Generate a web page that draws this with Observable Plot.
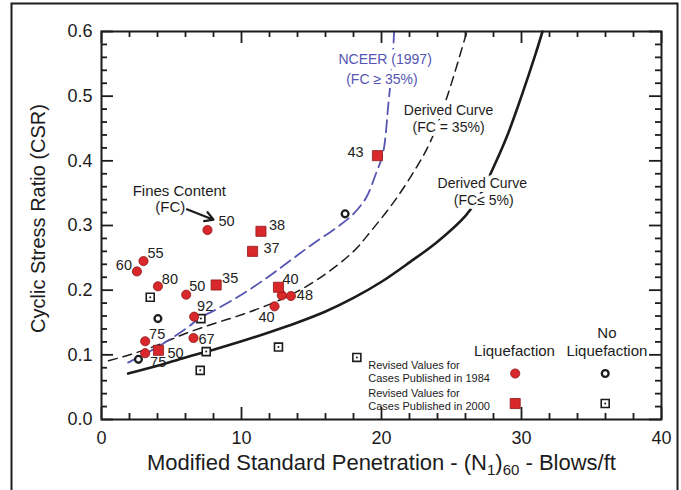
<!DOCTYPE html>
<html><head><meta charset="utf-8">
<script src="https://cdn.jsdelivr.net/npm/d3@7"></script>
<script src="https://cdn.jsdelivr.net/npm/@observablehq/plot@0.6"></script>
<style>
html,body{margin:0;padding:0;background:#fff;overflow:hidden;}
#chart svg{display:block;}
</style>
</head><body><div id="chart"></div>
<script>
// ---------- data ----------
// Curves: (N1)60 and CSR
const nceerN   = [1.9, 4, 6, 7.1, 8, 10, 12, 13.5, 15, 17, 18, 18.9, 19.6, 20.1, 20.5, 20.8, 20.9];
const nceerCSR = [0.088, 0.112, 0.14, 0.158, 0.168, 0.193, 0.222, 0.246, 0.27, 0.3, 0.318, 0.343, 0.38, 0.411, 0.49, 0.56, 0.6];
const fc35N    = [0.5, 2, 4, 6, 8, 10, 12, 14, 16, 18, 19.2, 21, 22.5, 23.5, 24.7, 26.1];
const fc35CSR  = [0.091, 0.1, 0.115, 0.133, 0.148, 0.162, 0.178, 0.198, 0.225, 0.26, 0.29, 0.34, 0.39, 0.43, 0.5, 0.6];
const fc5N     = [1.9, 4, 6, 8, 10, 12, 14, 16, 18, 20, 22, 24, 26, 27, 28, 29, 30, 31, 31.5];
const fc5CSR   = [0.071, 0.083, 0.096, 0.108, 0.121, 0.135, 0.15, 0.167, 0.188, 0.213, 0.243, 0.275, 0.315, 0.345, 0.39, 0.44, 0.5, 0.565, 0.6];

// Case histories
const liq1984N   = [7.57, 3.0, 2.53, 4.03, 6.05, 6.62, 6.57, 3.12, 3.12, 12.88, 13.53, 12.36];
const liq1984CSR = [0.293, 0.245, 0.229, 0.206, 0.193, 0.159, 0.126, 0.121, 0.1025, 0.192, 0.191, 0.175];
const liq1984FC  = ["50", "55", "60", "80", "50", "92", "67", "75", "75", "", "48", "40"];
const liq2000N   = [11.39, 10.79, 8.19, 12.64, 4.07, 19.71];
const liq2000CSR = [0.291, 0.26, 0.208, 0.2045, 0.107, 0.408];
const liq2000FC  = ["38", "37", "35", "40", "50", "43"];
const noLiq1984N   = [4.03, 2.64, 17.4];
const noLiq1984CSR = [0.156, 0.093, 0.318];
const noLiq2000N   = [3.48, 7.1, 7.48, 7.05, 12.64, 18.24];
const noLiq2000CSR = [0.189, 0.156, 0.105, 0.076, 0.112, 0.096];

// Ticks
const xMajor = [0, 10, 20, 30, 40];
const xMinor = [2, 4, 6, 8, 12, 14, 16, 18, 22, 24, 26, 28, 32, 34, 36, 38];
const yMajor = [0, 0.1, 0.2, 0.3, 0.4, 0.5, 0.6];
const yMinor = [0.02, 0.04, 0.06, 0.08, 0.12, 0.14, 0.16, 0.18, 0.22, 0.24, 0.26, 0.28,
                0.32, 0.34, 0.36, 0.38, 0.42, 0.44, 0.46, 0.48, 0.52, 0.54, 0.56, 0.58];

// Texts
const xTitle = "Modified Standard Penetration - (N1)60 - Blows/ft";
const yTitle = "Cyclic Stress Ratio (CSR)";
const legendHeads = ["Liquefaction", "No", "Liquefaction"];
const legendRows = ["Revised Values for", "Cases Published in 1984", "Revised Values for", "Cases Published in 2000"];

// ---------- layout (pixels / annotation anchors) ----------
const W = 681, H = 490, mL = 101, mR = 20, mT = 31, mB = 71;
const innerW = W - mL - mR, innerH = H - mT - mB;
const ink = "#1c1c1c", red = "#d8282c", redEdge = "#8e1b1b", blue = "#5656b2";

// label offsets (px) for each FC label
const off1984 = [[19,-9],[12,-8],[-13,-6],[12,-7],[11,-8],[11,-10],[13,1],[12,-7],[13,9],[0,0],[14,-1],[-8,11]];
const off2000 = [[16,-6],[19,-3],[14,-7],[12,-8],[17,3],[-22,-3]];

const zip = (xs, ys, ls) => xs.map((x, i) => ({x, y: ys[i], label: ls ? ls[i] : ""}));
const P = (x, y, text) => [{x, y, text}];

const liq1984 = zip(liq1984N, liq1984CSR, liq1984FC);
const liq2000 = zip(liq2000N, liq2000CSR, liq2000FC);
const noLiq1984 = zip(noLiq1984N, noLiq1984CSR);
const noLiq2000 = zip(noLiq2000N, noLiq2000CSR);

const txt = (data, o) => Plot.text(data, {x: "x", y: "y", text: "text", fill: ink, ...o});

const marks = [
  // outer picture border
  Plot.frame({stroke: ink, strokeWidth: 2, insetLeft: -(mL - 11), insetTop: -(mT - 3), insetRight: -(677 - (W - mR)), insetBottom: -(mB + 10)}),
  // ticks (inward, all four sides)
  Plot.ruleX(xMinor, {x: d => d, insetTop: innerH - 6, stroke: ink, strokeWidth: 1.8}),
  Plot.ruleX(xMajor, {x: d => d, insetTop: innerH - 12, stroke: ink, strokeWidth: 1.8}),
  Plot.ruleX(xMinor, {x: d => d, insetBottom: innerH - 6, stroke: ink, strokeWidth: 1.8}),
  Plot.ruleX(xMajor, {x: d => d, insetBottom: innerH - 12, stroke: ink, strokeWidth: 1.8}),
  Plot.ruleY(yMinor, {y: d => d, insetRight: innerW - 6, stroke: ink, strokeWidth: 1.8}),
  Plot.ruleY(yMajor, {y: d => d, insetRight: innerW - 12, stroke: ink, strokeWidth: 1.8}),
  Plot.ruleY(yMinor, {y: d => d, insetLeft: innerW - 6, stroke: ink, strokeWidth: 1.8}),
  Plot.ruleY(yMajor, {y: d => d, insetLeft: innerW - 12, stroke: ink, strokeWidth: 1.8}),
  Plot.axisX({ticks: xMajor, tickSize: 0, tickPadding: 12, fontSize: 18, label: null}),
  Plot.axisY({ticks: yMajor, tickSize: 0, tickPadding: 9, fontSize: 18, tickFormat: d3.format(".1f"), label: null}),
  // curves
  Plot.line(zip(fc5N, fc5CSR), {x: "x", y: "y", stroke: ink, strokeWidth: 2.6, curve: "catmull-rom"}),
  Plot.line(zip(fc35N, fc35CSR), {x: "x", y: "y", stroke: ink, strokeWidth: 1.5, strokeDasharray: "9,6", curve: "catmull-rom"}),
  Plot.line(zip(nceerN, nceerCSR), {x: "x", y: "y", stroke: blue, strokeWidth: 1.8, strokeDasharray: "12,6", curve: "catmull-rom"}),
  // curve labels
  txt(P(20.26, 0.556, "NCEER (1997)"), {fill: blue, fontSize: 14, stroke: "white", strokeWidth: 8}),
  txt(P(20.03, 0.526, "(FC ≥ 35%)"), {fill: blue, fontSize: 14, stroke: "white", strokeWidth: 8}),
  txt(P(24.79, 0.478, "Derived Curve"), {fontSize: 14, stroke: "white", strokeWidth: 8}),
  txt(P(24.79, 0.452, "(FC = 35%)"), {fontSize: 14, stroke: "white", strokeWidth: 8}),
  txt(P(27.2, 0.365, "Derived Curve"), {fontSize: 14, stroke: "white", strokeWidth: 8}),
  txt(P(27.3, 0.339, "(FC≤ 5%)"), {fontSize: 14, stroke: "white", strokeWidth: 8}),
  // Fines content annotation
  txt(P(5.56, 0.3526, "Fines Content"), {fontSize: 15}),
  txt(P(4.91, 0.3278, "(FC)"), {fontSize: 15}),
  Plot.arrow([{x1: 6.1, y1: 0.325, x2: 8.0, y2: 0.309}], {x1: "x1", y1: "y1", x2: "x2", y2: "y2", stroke: ink, strokeWidth: 2.2, headLength: 7}),
  // no-liquefaction points
  Plot.dot(noLiq2000, {x: "x", y: "y", symbol: "square", r: 4.5, fill: "white", stroke: ink, strokeWidth: 1.6}),
  Plot.dot(noLiq2000, {x: "x", y: "y", r: 1, fill: ink}),
  Plot.dot(noLiq1984, {x: "x", y: "y", r: 3.4, fill: "white", stroke: ink, strokeWidth: 2.3}),
  // liquefaction points
  Plot.dot(liq1984, {x: "x", y: "y", r: 4.6, fill: red, stroke: redEdge, strokeWidth: 0.8}),
  Plot.dot(liq2000, {x: "x", y: "y", symbol: "square", r: 5.7, fill: red, stroke: redEdge, strokeWidth: 0.8}),
  // FC labels
  ...liq1984.map((d, i) => txt([{x: d.x, y: d.y, text: d.label}], {fontSize: 14.5, dx: off1984[i][0], dy: off1984[i][1], fill: "#222"})),
  ...liq2000.map((d, i) => txt([{x: d.x, y: d.y, text: d.label}], {fontSize: 14.5, dx: off2000[i][0], dy: off2000[i][1], fill: "#222"})),
  // legend
  txt(P(29.5, 0.105, legendHeads[0]), {fontSize: 15}),
  txt(P(36.1, 0.133, legendHeads[1]), {fontSize: 15}),
  txt(P(36.1, 0.105, legendHeads[2]), {fontSize: 15}),
  txt(P(19.05, 0.0835, legendRows[0]), {fontSize: 11, textAnchor: "start"}),
  txt(P(19.05, 0.0634, legendRows[1]), {fontSize: 11, textAnchor: "start"}),
  txt(P(19.05, 0.0402, legendRows[2]), {fontSize: 11, textAnchor: "start"}),
  txt(P(19.05, 0.0201, legendRows[3]), {fontSize: 11, textAnchor: "start"}),
  Plot.dot(P(29.55, 0.0711), {x: "x", y: "y", r: 4.6, fill: red, stroke: redEdge, strokeWidth: 0.8}),
  Plot.dot(P(29.55, 0.0247), {x: "x", y: "y", symbol: "square", r: 5.7, fill: red, stroke: redEdge, strokeWidth: 0.8}),
  Plot.dot(P(35.98, 0.0711), {x: "x", y: "y", r: 3.4, fill: "white", stroke: ink, strokeWidth: 2.3}),
  Plot.dot(P(35.98, 0.0247), {x: "x", y: "y", symbol: "square", r: 4.5, fill: "white", stroke: ink, strokeWidth: 1.6}),
  Plot.dot(P(35.98, 0.0247), {x: "x", y: "y", r: 1, fill: ink}),
  // frame
  Plot.frame({stroke: ink, strokeWidth: 2}),
  // axis titles
  Plot.text([xTitle], {text: d => d, frameAnchor: "bottom", textAnchor: "middle", dy: 50, fontSize: 22, fill: ink}),
  Plot.text([yTitle], {text: d => d, frameAnchor: "left", textAnchor: "middle", lineAnchor: "middle", dx: -63, dy: -7, rotate: -90, fontSize: 20, fill: ink})
];

const chart = Plot.plot({
  width: W, height: H,
  marginLeft: mL, marginRight: mR, marginTop: mT, marginBottom: mB,
  x: {domain: [0, 40]},
  y: {domain: [0, 0.6]},
  style: {fontFamily: "'Liberation Sans', Arial, Helvetica, sans-serif", color: ink, background: "white"},
  marks
});

// subscripts in the x title
chart.querySelectorAll("text").forEach(t => {
  if (t.textContent === xTitle) {
    t.textContent = "";
    const parts = [["Modified Standard Penetration - (N", 0, null], ["1", 5, 15], [")", -5, null], ["60", 5, 15], [" - Blows/ft", -5, null]];
    for (const [s, dy, fs] of parts) {
      const sp = document.createElementNS("http://www.w3.org/2000/svg", "tspan");
      sp.textContent = s;
      if (dy) sp.setAttribute("dy", dy);
      if (fs) sp.setAttribute("font-size", fs);
      t.appendChild(sp);
    }
  }
});
document.getElementById("chart").appendChild(chart);
</script>
</body></html>
